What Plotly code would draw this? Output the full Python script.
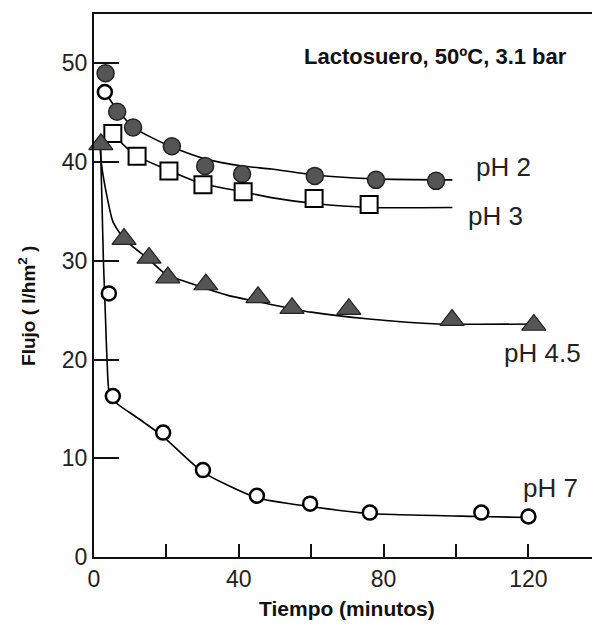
import plotly.graph_objects as go

# ---- data ----
# measured points (t in minutes, flux in l/hm2)
ph2_t = [3.2, 6.4, 10.8, 21.5, 30.7, 40.9, 61.0, 77.9, 94.5]
ph2_f = [49.0, 45.1, 43.5, 41.6, 39.6, 38.8, 38.6, 38.2, 38.1]

ph3_t = [5.2, 11.9, 20.7, 30.1, 41.2, 60.8, 76.0]
ph3_f = [42.9, 40.6, 39.1, 37.7, 37.0, 36.3, 35.7]

ph45_t = [1.9, 8.3, 15.2, 20.4, 30.9, 45.3, 54.7, 70.4, 98.9, 121.5]
ph45_f = [41.8, 32.2, 30.3, 28.3, 27.6, 26.3, 25.2, 25.1, 24.0, 23.5]

ph7_t = [3.0, 4.1, 5.2, 19.1, 30.1, 45.0, 59.7, 76.2, 107.0, 120.0]
ph7_f = [47.1, 26.7, 16.3, 12.6, 8.8, 6.2, 5.4, 4.5, 4.5, 4.1]

# fitted curves as drawn in the picture
ph2_curve_t = [3.0, 6.0, 11, 21, 31, 41, 49, 61, 78, 99]
ph2_curve_f = [47.1, 45.5, 43.5, 41.6, 40.3, 39.6, 39.3, 38.7, 38.3, 38.2]

ph3_curve_t = [5.2, 8, 12, 21, 30, 41, 49, 61, 76, 99]
ph3_curve_f = [42.9, 41.8, 40.6, 39.1, 37.8, 37.0, 36.4, 35.8, 35.4, 35.4]

ph45_curve_t = [1.7, 2.0, 3.6, 5.2, 8.3, 15, 20, 26, 37, 50, 60, 76, 95, 121.5]
ph45_curve_f = [42.0, 40.0, 36.5, 34.0, 32.2, 30.2, 28.6, 27.8, 26.5, 25.5, 24.8, 24.1, 23.6, 23.6]

ph7_curve_t = [1.8, 2.2, 2.6, 3.1, 3.6, 4.3, 6.5, 12, 19.1, 30.1, 45, 60, 76, 107, 120]
ph7_curve_f = [41.5, 36.0, 30.0, 25.0, 20.0, 16.5, 15.5, 14.1, 12.2, 8.6, 6.0, 5.1, 4.4, 4.1, 4.0]

x_ticks = [0, 20, 40, 60, 80, 100, 120]
x_labels = ["0", "", "40", "", "80", "", "120"]
y_ticks = [0, 10, 20, 30, 40, 50]
y_labels = ["0", "10", "20", "30", "40", "50"]

series_labels = ["pH 2", "pH 3", "pH 4.5", "pH 7"]
label_t = [113.0, 111.0, 123.8, 126.0]
label_f = [39.5, 34.5, 20.7, 7.0]

FONT = "Liberation Sans, Arial, sans-serif"

fig = go.Figure()

line_style = dict(color="black", width=1.6, shape="spline", smoothing=0.6)
for ct, cf in [(ph2_curve_t, ph2_curve_f), (ph3_curve_t, ph3_curve_f),
               (ph45_curve_t, ph45_curve_f), (ph7_curve_t, ph7_curve_f)]:
    fig.add_trace(go.Scatter(x=ct, y=cf, mode="lines", line=line_style,
                             hoverinfo="skip", cliponaxis=False))

fig.add_trace(go.Scatter(x=ph2_t, y=ph2_f, mode="markers", cliponaxis=False,
                         marker=dict(symbol="circle", size=17, color="#555555",
                                     line=dict(color="#222222", width=1.5))))
fig.add_trace(go.Scatter(x=ph3_t, y=ph3_f, mode="markers", cliponaxis=False,
                         marker=dict(symbol="square", size=17, color="white",
                                     line=dict(color="black", width=2))))
fig.add_trace(go.Scatter(x=ph45_t, y=ph45_f, mode="markers", cliponaxis=False,
                         marker=dict(symbol="triangle-up", size=21, color="#555555",
                                     line=dict(color="#222222", width=1.2))))
fig.add_trace(go.Scatter(x=ph7_t, y=ph7_f, mode="markers", cliponaxis=False,
                         marker=dict(symbol="circle", size=14, color="white",
                                     line=dict(color="black", width=2.5))))

annotations = []
for txt, t, f in zip(series_labels, label_t, label_f):
    annotations.append(dict(x=t, y=f, xref="x", yref="y", text=txt, showarrow=False,
                            xanchor="center", yanchor="middle",
                            font=dict(family=FONT, size=26, color="#222222")))
annotations.append(dict(x=0.677, y=0.921, xref="paper", yref="paper",
                        text="<b>Lactosuero, 50ºC, 3.1 bar</b>", showarrow=False,
                        xanchor="center", yanchor="middle",
                        font=dict(family=FONT, size=22, color="#111111")))
annotations.append(dict(x=0.5, y=-0.094, xref="paper", yref="paper",
                        text="<b>Tiempo (minutos)</b>", showarrow=False,
                        xanchor="center", yanchor="middle",
                        font=dict(family=FONT, size=21, color="#111111")))
annotations.append(dict(x=-0.133, y=0.462, xref="paper", yref="paper",
                        text="<b>Flujo ( l/hm<sup>2</sup> )</b>", showarrow=False,
                        textangle=-90, xanchor="center", yanchor="middle",
                        font=dict(family=FONT, size=19, color="#111111")))

# the page body adds an 8 px offset, so the figure is 8 px smaller and shifted
fig.update_layout(
    width=592, height=621,
    margin=dict(l=86, r=1, t=6, b=72),
    paper_bgcolor="white", plot_bgcolor="white",
    showlegend=False,
    annotations=annotations,
    xaxis=dict(range=[0, 139.5], showline=True, linecolor="#111111", linewidth=2,
               mirror=True, ticks="inside", ticklen=13, tickwidth=1.5, tickcolor="#111111",
               tickvals=x_ticks, ticktext=x_labels, showgrid=False, zeroline=False,
               tickfont=dict(family=FONT, size=23, color="#222222")),
    yaxis=dict(range=[0, 55], showline=True, linecolor="#111111", linewidth=2,
               ticks="inside", ticklen=25, tickwidth=1.5, tickcolor="#111111",
               tickvals=y_ticks, ticktext=y_labels, showgrid=False, zeroline=False,
               tickfont=dict(family=FONT, size=23, color="#222222")),
)

fig.write_html("out.html")
